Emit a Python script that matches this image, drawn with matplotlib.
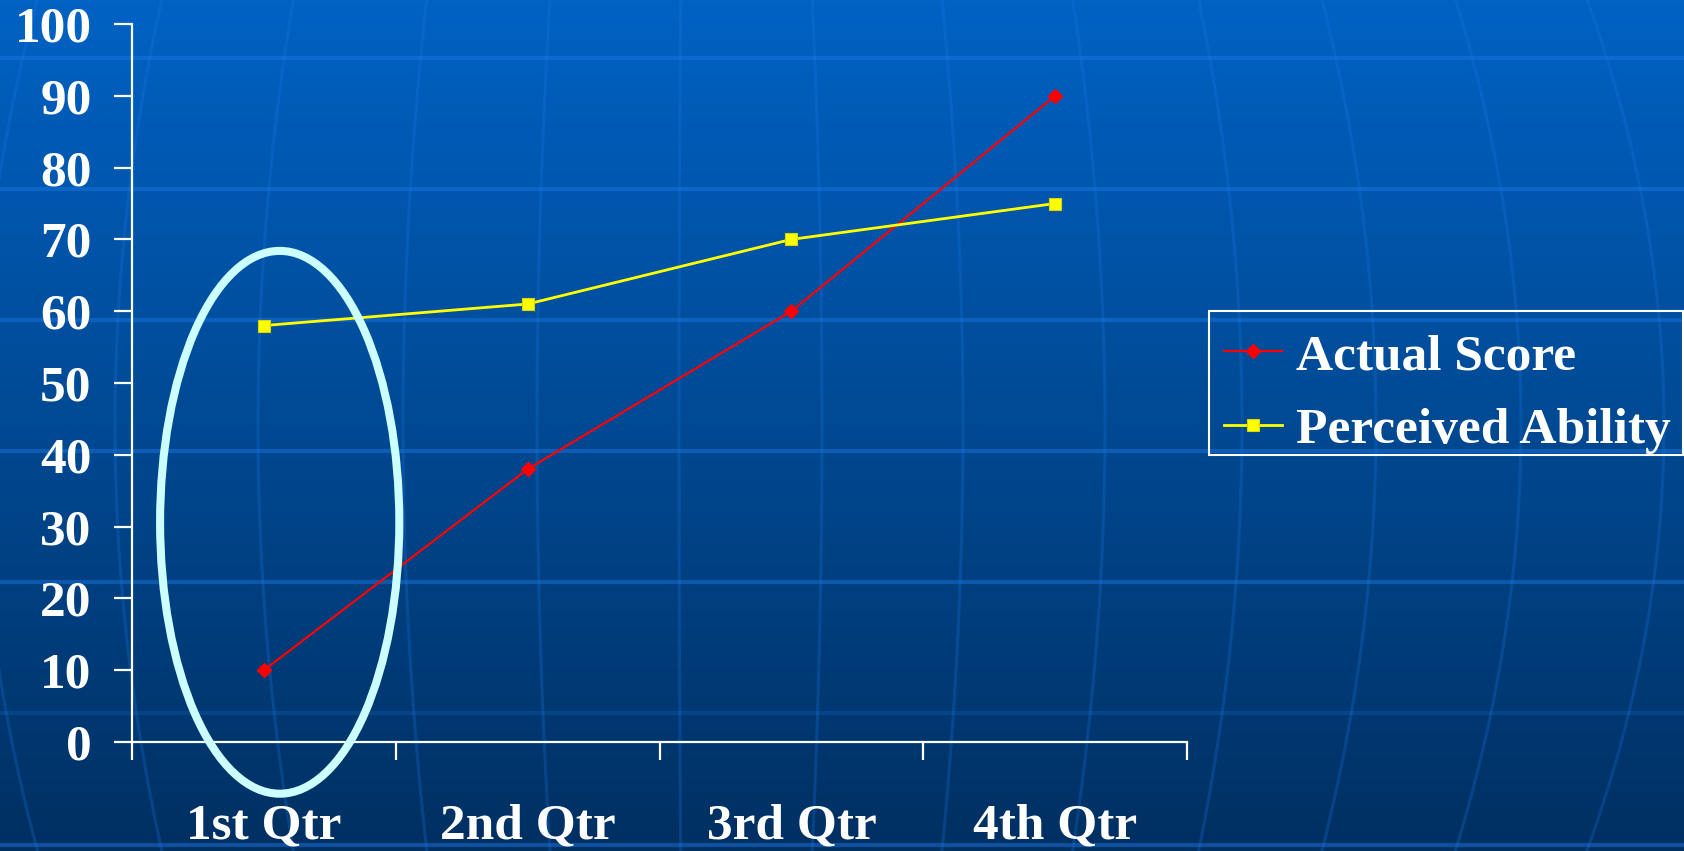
import numpy as np
import matplotlib
matplotlib.use("Agg")
import matplotlib.pyplot as plt
from matplotlib.patches import Ellipse, Rectangle
from matplotlib.font_manager import FontProperties

# ---- data ----
quarters = ['1st Qtr', '2nd Qtr', '3rd Qtr', '4th Qtr']
actual_score = [10, 38, 60, 90]
perceived_ability = [58, 61, 70, 75]
y_ticks = [0, 10, 20, 30, 40, 50, 60, 70, 80, 90, 100]
series_names = ['Actual Score', 'Perceived Ability']

W, H = 1684, 851
fig = plt.figure(figsize=(W / 100, H / 100), dpi=100)

# ---- background (gradient + globe lines) ----
bg = fig.add_axes([0, 0, 1, 1], zorder=0)
bg.set_xlim(0, W)
bg.set_ylim(H, 0)
bg.axis('off')
top = np.array([0, 98, 196]) / 255
bot = np.array([0, 48, 98]) / 255
t = np.linspace(0, 1, 256)[:, None, None]
grad = top[None, None, :] * (1 - t) + bot[None, None, :] * t
bg.imshow(grad, extent=[0, W, H, 0], aspect='auto', zorder=0)

for yy in [58, 189, 320, 451, 582, 713, 845]:
    a = 0.2 if yy == 713 else 0.45
    bg.plot([0, W], [yy, yy], color=(0.12, 0.47, 0.9), alpha=a, lw=3, zorder=1)

ys = np.linspace(0, H, 200)
for x0 in [-20, 115, 258, 403, 537, 679, 822, 963, 1105, 1242, 1376, 1521, 1664, 1800]:
    xs = x0 - 0.08 * (x0 - 700) * ((ys - 425) / 426) ** 2
    bg.plot(xs, ys, color=(0.12, 0.47, 0.9), alpha=0.25, lw=2.2, zorder=1)

# legend frame (drawn in pixel coords of the background axes)
bg.add_patch(Rectangle((1209, 311), 1683 - 1209, 455 - 311, fill=False,
                       edgecolor='white', lw=1.5, zorder=5))

# ---- main chart ----
font = FontProperties(family='Liberation Serif', weight='bold', size=37)

ax = fig.add_axes([132 / W, 1 - 742 / H, (1187 - 132) / W, (742 - 24) / H], zorder=2)
ax.patch.set_visible(False)
x = np.arange(len(quarters))

l1, = ax.plot(x, actual_score, color='#ff0000', lw=1.6, marker='D', markersize=7,
              markerfacecolor='#ff0000', markeredgecolor='#ff0000', zorder=3, clip_on=False)
l2, = ax.plot(x, perceived_ability, color='#ffff00', lw=2, marker='s', markersize=9,
              markerfacecolor='#ffff00', markeredgecolor='#d8d800', markeredgewidth=0.8,
              zorder=3, clip_on=False)

ax.set_xlim(-0.5, len(quarters) - 0.5)
ax.set_ylim(0, 100)

for side in ['top', 'right']:
    ax.spines[side].set_visible(False)
for side in ['left', 'bottom']:
    ax.spines[side].set_color('white')
    ax.spines[side].set_linewidth(1.6)

ax.set_yticks(y_ticks)
ax.set_yticklabels([str(v) for v in y_ticks], fontproperties=font, color='white')
ax.tick_params(axis='y', direction='out', length=13, width=1.6, color='white', pad=16)

ax.set_xticks(x)
ax.set_xticklabels(quarters, fontproperties=font, color='white')
ax.set_xticks(np.arange(-0.5, len(quarters), 1.0), minor=True)
ax.tick_params(axis='x', which='major', length=0, pad=44)
ax.tick_params(axis='x', which='minor', direction='out', length=13, width=1.6, color='white')

ell = Ellipse((0.06, 30.6), 0.907, 75.6, fill=False, edgecolor='#ccffff', lw=5.8,
              clip_on=False, zorder=4)
ax.add_patch(ell)

leg = fig.legend([l1, l2], series_names, loc='upper left',
                 bbox_to_anchor=(1209 / W, 1 - 318 / H), bbox_transform=fig.transFigure,
                 borderaxespad=0, frameon=False, prop=font, labelcolor='white',
                 borderpad=0.3, handlelength=1.13, handletextpad=0.27, labelspacing=0.52)

fig.savefig('out.png', dpi=100)
